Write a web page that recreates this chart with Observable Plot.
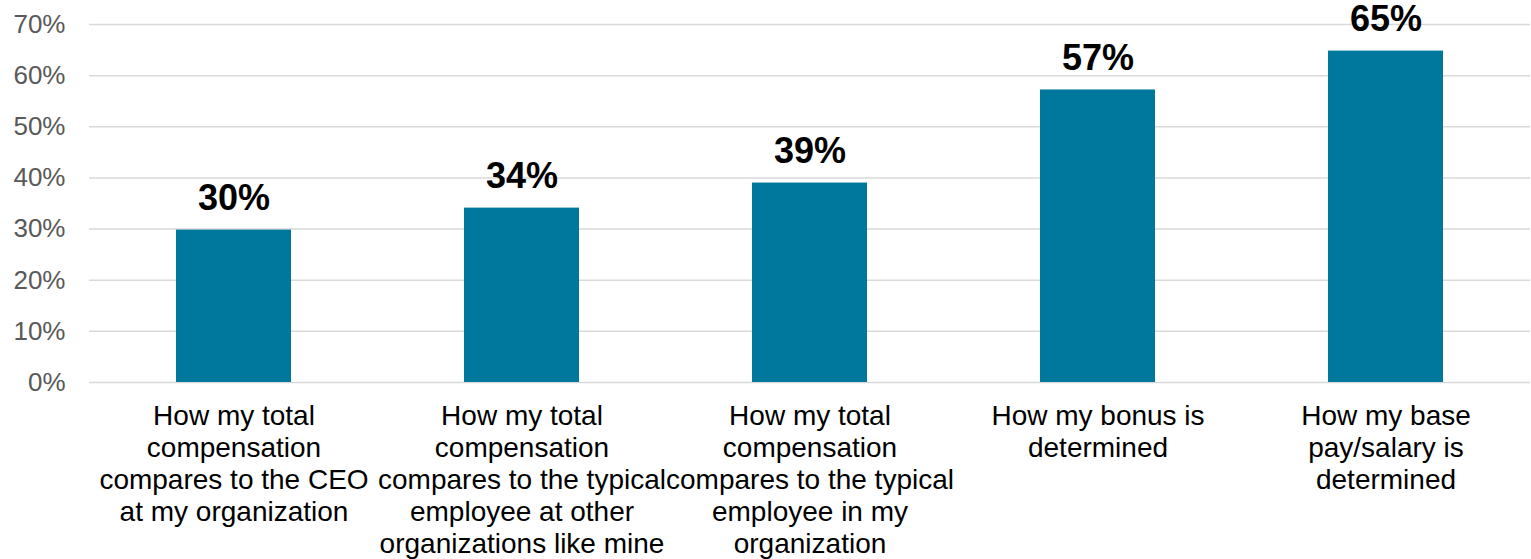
<!DOCTYPE html>
<html>
<head>
<meta charset="utf-8">
<script src="https://cdn.jsdelivr.net/npm/d3@7"></script>
<script src="https://cdn.jsdelivr.net/npm/@observablehq/plot@0.6"></script>
<style>
  html, body { margin: 0; padding: 0; background: #ffffff; }
  #chart svg { display: block; }
</style>
</head>
<body>
<div id="chart"></div>
<script>
const categories = [
  "How my total\ncompensation\ncompares to the CEO\nat my organization",
  "How my total\ncompensation\ncompares to the typical\nemployee at other\norganizations like mine",
  "How my total\ncompensation\ncompares to the typical\nemployee in my\norganization",
  "How my bonus is\ndetermined",
  "How my base\npay/salary is\ndetermined"
];
const values = [29.8, 34.1, 39.0, 57.2, 64.8];
const yTicks = [0, 10, 20, 30, 40, 50, 60, 70];

const data = categories.map((c, i) => ({category: c, value: values[i]}));
const font = "'Liberation Sans', Arial, sans-serif";

const chart = Plot.plot({
  width: 1531,
  height: 559,
  marginTop: 24,
  marginBottom: 177,
  marginLeft: 89,
  marginRight: 1,
  style: {fontFamily: font, background: "#ffffff"},
  x: {domain: categories, paddingInner: 0.6, paddingOuter: 0.3, label: null},
  y: {domain: [0, 70], label: null},
  marks: [
    Plot.gridY(yTicks, {stroke: "#d9d9d9", strokeOpacity: 1, strokeWidth: 1.5}),
    Plot.barY(data, {x: "category", y: "value", fill: "#00789d"}),
    Plot.text(data, {
      x: "category", y: "value",
      text: d => Math.round(d.value) + "%",
      lineAnchor: "bottom", dy: -20,
      fontSize: 36, fontWeight: "bold", fill: "#000000"
    }),
    Plot.axisY({
      ticks: yTicks, tickSize: 0, tickPadding: 24,
      tickFormat: d => d + "%",
      fontSize: 26, fill: "#595959", label: null
    }),
    Plot.axisX({
      tickSize: 0, tickPadding: 20,
      fontSize: 28, lineHeight: 1.143, fill: "#000000",
      lineAnchor: "top", label: null
    })
  ]
});
document.getElementById("chart").appendChild(chart);
</script>
</body>
</html>
